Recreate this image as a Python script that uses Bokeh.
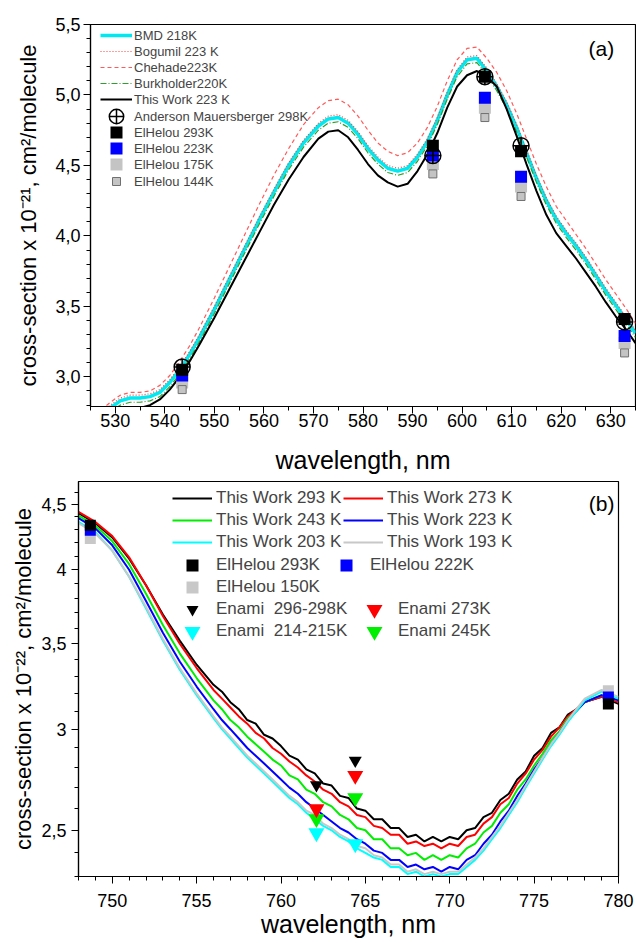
from bokeh.plotting import figure
from bokeh.models import (Range1d, FixedTicker, CustomJSTickFormatter, Legend,
                          LegendItem, Label)
from bokeh.embed import file_html
from bokeh.resources import INLINE

FONT = "Liberation Sans"

# ---------------- Panel (a) data ----------------
wl_a = [525, 527, 529, 531, 533, 535, 537, 539, 541, 543, 545, 547, 550, 553, 556,
        559, 562, 565, 568, 571, 573, 575, 577, 579, 581, 583, 585, 587, 589, 591,
        593, 595, 597, 599, 601, 603, 605, 607, 609, 611, 613, 615, 617, 619, 621,
        623, 625, 627, 629, 631, 633, 635]
bmd_218 = [2.66, 2.72, 2.78, 2.83, 2.85, 2.85, 2.86, 2.89, 2.96, 3.05, 3.16, 3.28, 3.48,
           3.69, 3.90, 4.11, 4.31, 4.50, 4.66, 4.78, 4.83, 4.84, 4.80, 4.72, 4.62, 4.54,
           4.48, 4.46, 4.48, 4.56, 4.67, 4.82, 5.00, 5.16, 5.25, 5.26, 5.17, 5.06, 4.93,
           4.77, 4.59, 4.41, 4.25, 4.12, 4.02, 3.93, 3.83, 3.72, 3.61, 3.51, 3.41, 3.31]
bogumil_223 = [2.68, 2.74, 2.80, 2.85, 2.87, 2.87, 2.88, 2.91, 2.98, 3.07, 3.18, 3.30, 3.50,
               3.71, 3.92, 4.13, 4.33, 4.52, 4.68, 4.80, 4.85, 4.86, 4.82, 4.74, 4.64, 4.56,
               4.50, 4.48, 4.50, 4.58, 4.69, 4.84, 5.02, 5.18, 5.27, 5.28, 5.19, 5.08, 4.95,
               4.79, 4.61, 4.43, 4.27, 4.14, 4.04, 3.95, 3.85, 3.74, 3.63, 3.53, 3.43, 3.33]
chehade_223 = [2.70, 2.76, 2.82, 2.87, 2.89, 2.89, 2.90, 2.94, 3.01, 3.11, 3.22, 3.35, 3.56,
               3.78, 4.00, 4.22, 4.43, 4.62, 4.79, 4.91, 4.96, 4.97, 4.93, 4.85, 4.75, 4.66,
               4.60, 4.57, 4.59, 4.66, 4.77, 4.92, 5.10, 5.25, 5.33, 5.34, 5.26, 5.16, 5.03,
               4.87, 4.69, 4.51, 4.35, 4.21, 4.11, 4.01, 3.91, 3.80, 3.69, 3.59, 3.49, 3.38]
burkholder_220 = [2.63, 2.69, 2.75, 2.80, 2.82, 2.82, 2.83, 2.86, 2.93, 3.02, 3.13, 3.25, 3.45,
                  3.66, 3.87, 4.08, 4.28, 4.47, 4.63, 4.75, 4.80, 4.81, 4.77, 4.69, 4.59, 4.51,
                  4.45, 4.43, 4.45, 4.53, 4.64, 4.79, 4.97, 5.13, 5.22, 5.23, 5.14, 5.03, 4.90,
                  4.74, 4.56, 4.38, 4.22, 4.09, 3.99, 3.90, 3.80, 3.69, 3.58, 3.48, 3.38, 3.28]
thiswork_223 = [2.60, 2.66, 2.71, 2.75, 2.77, 2.78, 2.80, 2.84, 2.91, 3.00, 3.11, 3.23, 3.42,
                3.62, 3.82, 4.02, 4.22, 4.40, 4.56, 4.69, 4.74, 4.75, 4.70, 4.61, 4.51, 4.43,
                4.38, 4.35, 4.37, 4.46, 4.58, 4.73, 4.91, 5.06, 5.14, 5.17, 5.13, 5.06, 4.90,
                4.71, 4.51, 4.32, 4.15, 4.02, 3.93, 3.84, 3.74, 3.64, 3.53, 3.43, 3.34, 3.24]

am_wl = [543.5, 594.1, 604.6, 611.9, 632.8]
am_298 = [3.07, 4.57, 5.13, 4.64, 3.39]
eh_wl = [543.5, 594.1, 604.6, 611.9, 632.8]
eh_293 = [3.05, 4.64, 5.13, 4.60, 3.41]
eh_223 = [3.01, 4.57, 4.98, 4.42, 3.29]
eh_175 = [2.96, 4.51, 4.91, 4.35, 3.24]
eh_144 = [2.91, 4.44, 4.84, 4.28, 3.17]

ya_ticks = [3.0, 3.5, 4.0, 4.5, 5.0, 5.5]
ya_minor = [2.8, 2.9, 3.1, 3.2, 3.3, 3.4, 3.6, 3.7, 3.8, 3.9, 4.1, 4.2, 4.3, 4.4,
            4.6, 4.7, 4.8, 4.9, 5.1, 5.2, 5.3, 5.4]
xa_ticks = [530, 540, 550, 560, 570, 580, 590, 600, 610, 620, 630]
xa_minor = [525, 535, 545, 555, 565, 575, 585, 595, 605, 615, 625, 635]

# ---------------- Panel (b) data ----------------
wl_b = [748, 749, 750, 751, 752, 753, 754, 755, 756,
        756.5, 757, 757.5, 758, 758.5, 759, 759.5, 760, 760.5, 761,
        761.5, 762, 762.5, 763, 763.5, 764, 764.5, 765, 765.5, 766,
        766.5, 767, 767.5, 768, 768.5, 769, 769.5, 770, 770.5, 771,
        771.5, 772, 772.5, 773, 773.5, 774, 774.5, 775, 775.5, 776,
        776.5, 777, 777.5, 778, 779, 780]
tw_293 = [4.43, 4.35, 4.24, 4.08, 3.89, 3.69, 3.52, 3.37, 3.25,
          3.21, 3.15, 3.11, 3.05, 3.03, 2.97, 2.95, 2.91, 2.86, 2.84,
          2.79, 2.77, 2.72, 2.71, 2.66, 2.65, 2.60, 2.59, 2.55, 2.55,
          2.51, 2.51, 2.47, 2.48, 2.45, 2.47, 2.45, 2.47, 2.46, 2.50,
          2.51, 2.56, 2.58, 2.64, 2.67, 2.74, 2.78, 2.86, 2.90, 2.98,
          3.01, 3.08, 3.11, 3.15, 3.18, 3.14]
tw_273 = [4.44, 4.36, 4.25, 4.09, 3.89, 3.68, 3.50, 3.35, 3.22,
          3.17, 3.12, 3.07, 3.03, 2.98, 2.95, 2.90, 2.87, 2.83, 2.80,
          2.76, 2.73, 2.69, 2.67, 2.63, 2.61, 2.57, 2.56, 2.52, 2.51,
          2.48, 2.48, 2.44, 2.45, 2.43, 2.44, 2.42, 2.44, 2.43, 2.47,
          2.48, 2.53, 2.56, 2.62, 2.65, 2.72, 2.77, 2.84, 2.89, 2.96,
          3.01, 3.07, 3.11, 3.15, 3.18, 3.15]
tw_243 = [4.41, 4.33, 4.21, 4.04, 3.83, 3.62, 3.44, 3.29, 3.16,
          3.11, 3.05, 3.01, 2.96, 2.92, 2.88, 2.84, 2.81, 2.76, 2.74,
          2.69, 2.67, 2.63, 2.61, 2.57, 2.55, 2.51, 2.50, 2.46, 2.46,
          2.42, 2.42, 2.39, 2.40, 2.37, 2.39, 2.37, 2.39, 2.38, 2.42,
          2.44, 2.49, 2.52, 2.58, 2.62, 2.69, 2.74, 2.81, 2.87, 2.94,
          2.99, 3.06, 3.10, 3.15, 3.19, 3.16]
tw_223 = [4.39, 4.31, 4.18, 4.00, 3.78, 3.57, 3.39, 3.24, 3.11,
          3.05, 3.00, 2.95, 2.90, 2.86, 2.82, 2.78, 2.74, 2.70, 2.67,
          2.63, 2.60, 2.57, 2.54, 2.51, 2.49, 2.46, 2.44, 2.41, 2.40,
          2.37, 2.37, 2.34, 2.35, 2.33, 2.34, 2.32, 2.34, 2.33, 2.37,
          2.39, 2.44, 2.48, 2.54, 2.59, 2.66, 2.72, 2.79, 2.85, 2.92,
          2.98, 3.05, 3.10, 3.15, 3.19, 3.16]
tw_203 = [4.36, 4.28, 4.14, 3.95, 3.73, 3.52, 3.34, 3.19, 3.06,
          3.00, 2.95, 2.90, 2.85, 2.81, 2.77, 2.73, 2.69, 2.65, 2.62,
          2.58, 2.55, 2.52, 2.50, 2.47, 2.45, 2.42, 2.40, 2.38, 2.37,
          2.34, 2.34, 2.31, 2.32, 2.30, 2.31, 2.30, 2.31, 2.31, 2.34,
          2.37, 2.41, 2.46, 2.51, 2.57, 2.63, 2.70, 2.77, 2.84, 2.91,
          2.97, 3.04, 3.10, 3.16, 3.21, 3.17]
tw_193 = [4.35, 4.27, 4.14, 3.95, 3.74, 3.53, 3.35, 3.20, 3.07,
          3.01, 2.96, 2.91, 2.86, 2.82, 2.78, 2.74, 2.70, 2.66, 2.63,
          2.59, 2.57, 2.53, 2.51, 2.48, 2.46, 2.43, 2.42, 2.39, 2.38,
          2.35, 2.35, 2.32, 2.33, 2.31, 2.32, 2.31, 2.32, 2.32, 2.35,
          2.38, 2.42, 2.47, 2.52, 2.58, 2.64, 2.71, 2.78, 2.85, 2.92,
          2.98, 3.05, 3.11, 3.17, 3.22, 3.18]

ehb_wl = [748.7, 779.4]
ehb_293 = [4.335, 3.14]
ehb_222 = [4.296, 3.18]
ehb_150 = [4.232, 3.216]
en_wl = [762.1, 764.4]
en_296 = [2.713, 2.835]
en_273 = [2.598, 2.759]
en_245 = [2.552, 2.651]
en_214 = [2.488, 2.439]

yb_ticks = [2.5, 3.0, 3.5, 4.0, 4.5]
yb_minor = [2.3, 2.4, 2.6, 2.7, 2.8, 2.9, 3.1, 3.2, 3.3, 3.4, 3.6, 3.7, 3.8, 3.9,
            4.1, 4.2, 4.3, 4.4, 4.6]
xb_ticks = [750, 755, 760, 765, 770, 775, 780]
xb_minor = [748, 749, 751, 752, 753, 754, 756, 757, 758, 759, 761, 762, 763, 764,
            766, 767, 768, 769, 771, 772, 773, 774, 776, 777, 778, 779]


def style_axes(p, xlab, ylab, xstand, ystand, xlab_stand, ylab_stand, ylab_size):
    p.outline_line_color = "black"
    p.outline_line_width = 1.2
    p.outline_line_alpha = 1
    p.xgrid.visible = False
    p.ygrid.visible = False
    p.background_fill_color = "white"
    p.border_fill_color = "white"
    for ax in (p.xaxis[0], p.yaxis[0]):
        ax.axis_line_color = "black"
        ax.axis_line_width = 1.2
        ax.major_tick_line_color = "black"
        ax.minor_tick_line_color = "black"
        ax.major_tick_in = 0
        ax.major_tick_out = 7
        ax.minor_tick_in = 0
        ax.minor_tick_out = 4
        ax.major_label_text_font = FONT
        ax.major_label_text_font_size = "18px"
        ax.major_label_text_color = "black"
        ax.axis_label_text_font = FONT
        ax.axis_label_text_font_style = "normal"
        ax.axis_label_text_color = "black"
    p.xaxis[0].axis_label = xlab
    p.yaxis[0].axis_label = ylab
    p.xaxis[0].axis_label_text_font_size = "25px"
    p.yaxis[0].axis_label_text_font_size = ylab_size
    p.xaxis[0].major_label_standoff = xstand
    p.yaxis[0].major_label_standoff = ystand
    p.xaxis[0].axis_label_standoff = xlab_stand
    p.yaxis[0].axis_label_standoff = ylab_stand


def make_legend(items, loc, gw, gh, standoff, fsize, p):
    lg = Legend(items=[LegendItem(label=t, renderers=[r]) for t, r in items],
                location=loc, padding=0, margin=0, spacing=0, label_height=gh,
                glyph_height=gh, glyph_width=gw, label_standoff=standoff,
                label_text_font=FONT, label_text_font_size=fsize,
                background_fill_alpha=0, border_line_alpha=0)
    p.add_layout(lg)
    return lg


# ---------------- Figure (a) ----------------
p1 = figure(width=636, height=479, x_range=Range1d(525, 635), y_range=Range1d(2.79, 5.5),
            output_backend="svg", toolbar_location=None,
            min_border_left=90, min_border_right=1, min_border_top=24, min_border_bottom=73)
style_axes(p1, "wavelength, nm", "cross-section x 10\u207b\u00b2\u00b9, cm\u00b2/molecule",
           0, 3, 16, 11, "22px")
p1.xaxis[0].ticker = FixedTicker(ticks=xa_ticks, minor_ticks=xa_minor)
p1.yaxis[0].ticker = FixedTicker(ticks=ya_ticks, minor_ticks=ya_minor)
p1.yaxis[0].formatter = CustomJSTickFormatter(code="return tick.toFixed(1).replace('.', ',');")

r_bmd = p1.line(wl_a, bmd_218, line_color="#00e8f0", line_width=3.5)
r_bog = p1.line(wl_a, bogumil_223, line_color="#ff4040", line_width=1.2, line_dash="1 2")
r_che = p1.line(wl_a, chehade_223, line_color="#ff5a5a", line_width=1.2, line_dash="4 3")
r_bur = p1.line(wl_a, burkholder_220, line_color="#2e9e2e", line_width=1.2, line_dash="6 2 1 2")
r_tw = p1.line(wl_a, thiswork_223, line_color="black", line_width=2)
r_e175 = p1.scatter(eh_wl, eh_175, marker="square", size=12, fill_color="#c4c4c4", line_color=None)
r_e144 = p1.scatter(eh_wl, eh_144, marker="square", size=8, fill_color="#c4c4c4", line_color="#707070", line_width=1)
r_e223 = p1.scatter(eh_wl, eh_223, marker="square", size=12, fill_color="#0000ff", line_color=None)
r_e293 = p1.scatter(eh_wl, eh_293, marker="square", size=12, fill_color="black", line_color=None)
r_am = p1.scatter(am_wl, am_298, marker="circle_cross", size=16, fill_color=None,
                  line_color="black", line_width=1.5)

# frame of (a): 545 x 382 px; legend rows every 16 px
make_legend([("BMD 218K", r_bmd), ("Bogumil 223 K", r_bog), ("Chehade223K", r_che),
             ("Burkholder220K", r_bur), ("This Work 223 K", r_tw)],
            (10, 299), 32, 16, 2, "13px", p1)
make_legend([("Anderson Mauersberger 298K", r_am)], (8, 272), 36, 36, 0, "13px", p1)
make_legend([("ElHelou 293K", r_e293)], (10, 259), 32, 30, 2, "13px", p1)
make_legend([("ElHelou 223K", r_e223)], (10, 243), 32, 30, 2, "13px", p1)
make_legend([("ElHelou 175K", r_e175)], (10, 227), 32, 30, 2, "13px", p1)
make_legend([("ElHelou 144K", r_e144)], (10, 215), 32, 20, 2, "13px", p1)

p1.add_layout(Label(x=628.1, y=5.33, text="(a)", text_font=FONT, text_font_size="21px",
                    text_align="center", text_baseline="middle", text_color="black"))

# ---------------- Figure (b) ----------------
p2 = figure(width=636, height=464, x_range=Range1d(748, 780), y_range=Range1d(2.3, 4.69),
            y_axis_type="log", output_backend="svg", toolbar_location=None,
            min_border_left=78, min_border_right=18, min_border_top=2, min_border_bottom=67)
style_axes(p2, "wavelength, nm", "cross-section x 10\u207b\u00b2\u00b2, cm\u00b2/molecule",
           10, 5, 0, 2, "22px")
p2.xaxis[0].ticker = FixedTicker(ticks=xb_ticks, minor_ticks=xb_minor)
p2.yaxis[0].ticker = FixedTicker(ticks=yb_ticks, minor_ticks=yb_minor)
p2.yaxis[0].formatter = CustomJSTickFormatter(
    code="var s = (Math.abs(tick - Math.round(tick)) < 1e-6) ? Math.round(tick).toString() : tick.toFixed(1); return s.replace('.', ',');")

l293 = p2.line(wl_b, tw_293, line_color="black", line_width=2)
l273 = p2.line(wl_b, tw_273, line_color="#ff0000", line_width=2)
l243 = p2.line(wl_b, tw_243, line_color="#00ee00", line_width=2)
l223 = p2.line(wl_b, tw_223, line_color="#0000ff", line_width=2)
l203 = p2.line(wl_b, tw_203, line_color="#00ffff", line_width=2)
l193 = p2.line(wl_b, tw_193, line_color="#c8c8c8", line_width=2)

m150 = p2.scatter(ehb_wl, ehb_150, marker="square", size=11, fill_color="#c8c8c8", line_color=None)
m222 = p2.scatter(ehb_wl, ehb_222, marker="square", size=11, fill_color="#0000ff", line_color=None)
m293 = p2.scatter(ehb_wl, ehb_293, marker="square", size=11, fill_color="black", line_color=None)
t214 = p2.scatter(en_wl, en_214, marker="inverted_triangle", size=16, fill_color="#00ffff", line_color=None)
t245 = p2.scatter(en_wl, en_245, marker="inverted_triangle", size=16, fill_color="#00ee00", line_color=None)
t273 = p2.scatter(en_wl, en_273, marker="inverted_triangle", size=16, fill_color="#ff0000", line_color=None)
t296 = p2.scatter(en_wl, en_296, marker="inverted_triangle", size=13, fill_color="black", line_color=None)

# frame of (b): 540 x 395 px; legend rows every 22 px
FS = "17px"
make_legend([("This Work 293 K", l293), ("This Work 243 K", l243), ("This Work 203 K", l203)],
            (94, 323), 40, 22, 4, FS, p2)
make_legend([("This Work 273 K", l273), ("This Work 223 K", l223), ("This Work 193 K", l193)],
            (265, 323), 40, 22, 4, FS, p2)
make_legend([("ElHelou 293K", m293)], (94, 296), 40, 30, 4, FS, p2)
make_legend([("ElHelou 150K", m150)], (94, 274), 40, 30, 4, FS, p2)
make_legend([("ElHelou 222K", m222)], (248, 296), 40, 30, 4, FS, p2)
make_legend([("Enami  296-298K", t296)], (94, 252), 40, 30, 4, FS, p2)
make_legend([("Enami  214-215K", t214)], (94, 225), 40, 40, 4, FS, p2)
make_legend([("Enami 273K", t273)], (276, 247), 40, 40, 4, FS, p2)
make_legend([("Enami 245K", t245)], (276, 225), 40, 40, 4, FS, p2)

p2.add_layout(Label(x=779.0, y=4.51, text="(b)", text_font=FONT, text_font_size="21px",
                    text_align="center", text_baseline="middle", text_color="black"))

open("out.html", "w").write(file_html([p1, p2], INLINE))
